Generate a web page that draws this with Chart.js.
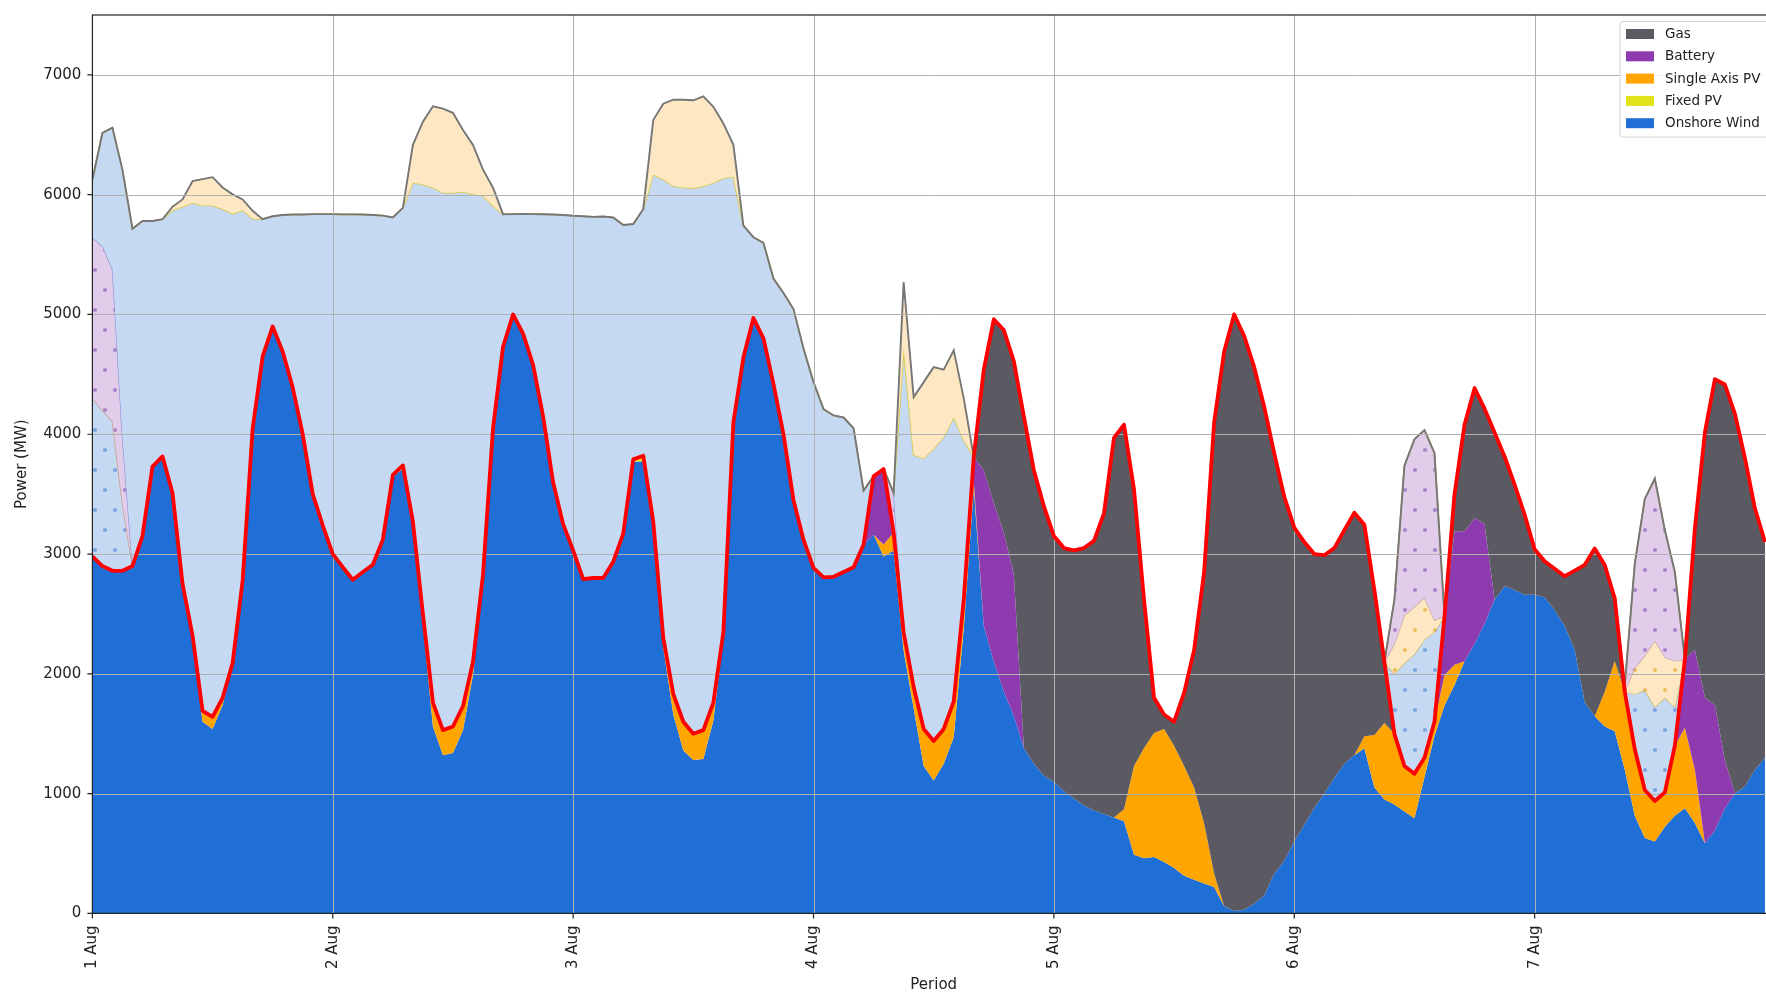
<!DOCTYPE html>
<html>
<head>
<meta charset="utf-8">
<script src="https://cdn.jsdelivr.net/npm/chart.js@4/dist/chart.umd.min.js"></script>
<style>
  html, body { margin: 0; padding: 0; background: #fff; overflow: hidden; width: 1766px; height: 993px; }
  canvas { display: block; }
</style>
</head>
<body>
<canvas id="dispatch" width="1800" height="993"></canvas>
<script>
// Hourly dispatch, 1 Aug 00:00 to 7 Aug 23:00 (MW). One row per day.
const tickLabels = ['1 Aug', '2 Aug', '3 Aug', '4 Aug', '5 Aug', '6 Aug', '7 Aug', '8 Aug'];
const powerTicks = [0, 1000, 2000, 3000, 4000, 5000, 6000, 7000];

const load = [
  2980,2900,2860,2860,2900,3150,3730,3815,3510,2750,2320,1690,1640,1800,2090,2780,4050,4650,4900,4690,4390,4000,3500,3240,
  3000,2890,2785,2850,2910,3120,3660,3740,3270,2500,1760,1530,1560,1730,2100,2830,4050,4730,5000,4840,4580,4150,3600,3250,
  3030,2790,2800,2800,2935,3170,3790,3820,3270,2300,1830,1600,1500,1530,1760,2350,4100,4640,4970,4800,4420,4000,3450,3120,
  2885,2805,2810,2850,2890,3080,3650,3710,3180,2345,1890,1540,1440,1540,1770,2620,3810,4540,4960,4870,4610,4150,3700,3400,
  3150,3050,3030,3050,3110,3340,3970,4080,3540,2620,1800,1660,1600,1840,2200,2850,4100,4690,5000,4820,4560,4230,3840,3480,
  3220,3100,3000,2990,3050,3200,3345,3245,2700,2100,1500,1230,1165,1300,1600,2480,3500,4080,4385,4214,4014,3815,3580,3330,
  3040,2940,2877,2815,2862,2910,3046,2908,2630,1850,1370,1030, 938,1010,1400,2120,3215,4015,4460,4415,4170,3800,3380,3100
];

const onshoreWind = [
  2980,2900,2860,2860,2900,3150,3730,3815,3510,2740,2280,1600,1540,1740,2070,2780,4050,4650,4900,4690,4390,4000,3500,3240,
  3000,2890,2785,2850,2910,3120,3645,3715,3230,2420,1560,1320,1340,1530,1990,2800,4050,4730,5000,4840,4580,4150,3600,3250,
  3030,2790,2800,2800,2935,3170,3770,3775,3220,2220,1660,1360,1280,1290,1610,2310,4100,4640,4970,4800,4420,4000,3450,3120,
  2885,2805,2810,2850,2890,3080,3160,2980,3030,2195,1710,1230,1110,1250,1470,2380,3550,2400,2100,1850,1650,1380,1250,1150,
  1100,1020, 960, 900, 860, 830, 800, 770, 490, 460, 470, 430, 380, 315, 280, 250, 220,  60,  20,  30,  80, 150, 330, 440,
   600, 740, 880,1000,1130,1250,1320,1379,1050, 950, 910, 850, 795,1137,1480,1735,1906,2105,2248,2419,2618,2732,2700,2660,
  2660,2640,2530,2400,2200,1760,1646,1560,1520,1200, 815, 630, 600, 723, 815, 877, 754, 585, 692, 877,1000,1060,1200,1300
];

const fixedPV = [
  0,0,0,0,0,0, 0, 0,0,0,0,0,0,0,0,0,0,0,0,0,0,0,0,0,
  0,0,0,0,0,0,15,25,0,0,0,0,0,0,0,0,0,0,0,0,0,0,0,0,
  0,0,0,0,0,0,20,25,0,0,0,0,0,0,0,0,0,0,0,0,0,0,0,0,
  0,0,0,0,0,0, 0, 0,0,0,0,0,0,0,0,0,0,0,0,0,0,0,0,0,
  0,0,0,0,0,0, 0, 0,0,0,0,0,0,0,0,0,0,0,0,0,0,0,0,0,
  0,0,0,0,0,0, 0, 0,0,0,0,0,0,0,0,0,0,0,0,0,0,0,0,0,
  0,0,0,0,0,0, 0, 0,0,0,0,0,0,0,0,0,0,0,0,0,0,0,0,0
];

const singleAxisPV = [
  0,0,0,0,0,0,0,  0,  0,  10,  40,  90, 100,  60,  20,   0,  0,0,0,0,0,0,0,0,
  0,0,0,0,0,0,0,  0, 40,  80, 200, 210, 220, 200, 110,  30,  0,0,0,0,0,0,0,0,
  0,0,0,0,0,0,0, 20, 50,  80, 170, 240, 220, 240, 150,  40,  0,0,0,0,0,0,0,0,
  0,0,0,0,0,0,0,100,150, 150, 180, 310, 330, 290, 300, 240, 60,0,0,0,0,0,0,0,
  0,0,0,0,0,0,0,100,740, 920,1035,1110,1020, 915, 770, 500,110,0,0,0,0,0,0,0,
  0,0,0,0,0,0,0,100,440, 640, 590, 380, 370, 163, 120, 255,170,0,0,0,0,0,0,0,
  0,0,0,0,0,0,0,290,587, 650, 555, 400, 338, 287, 585, 673,446,0,0,0,0,0,0,0
];

const battery = [
  0,0,0,0,0,0,  0,  0,0,0,0,0,0,0,0,  0,   0,   0,   0,   0,   0,0,0,0,
  0,0,0,0,0,0,  0,  0,0,0,0,0,0,0,0,  0,   0,   0,   0,   0,   0,0,0,0,
  0,0,0,0,0,0,  0,  0,0,0,0,0,0,0,0,  0,   0,   0,   0,   0,   0,0,0,0,
  0,0,0,0,0,0,490,630,0,0,0,0,0,0,0,  0, 200,1300,1325,1330,1180,0,0,0,
  0,0,0,0,0,0,  0,  0,0,0,0,0,0,0,0,  0,   0,   0,   0,   0,   0,0,0,0,
  0,0,0,0,0,0,  0,  0,0,0,0,0,0,0,0,490,1114,1085,1052, 831,   0,0,0,0,
  0,0,0,0,0,0,  0,  0,0,0,0,0,0,0,0,570,1000,1215,1048, 400,   0,0,0,0
];

const gas = [
     0,   0,   0,   0,   0,   0,   0,   0,   0,   0,  0,  0,  0,  0,   0,   0,   0,   0,   0,   0,   0,   0,   0,   0,
     0,   0,   0,   0,   0,   0,   0,   0,   0,   0,  0,  0,  0,  0,   0,   0,   0,   0,   0,   0,   0,   0,   0,   0,
     0,   0,   0,   0,   0,   0,   0,   0,   0,   0,  0,  0,  0,  0,   0,   0,   0,   0,   0,   0,   0,   0,   0,   0,
     0,   0,   0,   0,   0,   0,   0,   0,   0,   0,  0,  0,  0,  0,   0,   0,   0, 840,1535,1690,1780,2770,2450,2250,
  2050,2030,2070,2150,2250,2510,3170,3210,2310,1240,295,120,200,610,1150,2100,3770,4630,4980,4790,4480,4080,3510,3040,
  2620,2360,2120,1990,1920,1950,2025,1766,1210, 510,  0,  0,  0,  0,   0,   0, 310, 890,1085, 964,1396,1083, 880, 670,
   380, 300, 347, 415, 662,1150,1400,1058, 523,   0,  0,  0,  0,  0,   0,   0,1015,2215,2720,3138,3170,2740,2180,1800
];

// Energy above demand: stored (dotted) and curtailed (plain)
const windToStorage = [
  1320,1300,1250,560,0,0,0,0,0,0,   0,   0,   0,   0,   0,0,0,0,0,0,0,0,0,0,
  0,0,0,0,0,0,0,0,0,0,   0,   0,   0,   0,   0,0,0,0,0,0,0,0,0,0,
  0,0,0,0,0,0,0,0,0,0,   0,   0,   0,   0,   0,0,0,0,0,0,0,0,0,0,
  0,0,0,0,0,0,0,0,0,0,   0,   0,   0,   0,   0,0,0,0,0,0,0,0,0,0,
  0,0,0,0,0,0,0,0,0,0,   0,   0,   0,   0,   0,0,0,0,0,0,0,0,0,0,
  0,0,0,0,0,0,0,0,0,0, 500, 858,1000, 987, 748,0,0,0,0,0,0,0,0,0,
  0,0,0,0,0,0,0,0,0,0, 460, 832, 785, 790, 323,0,0,0,0,0,0,0,0,0
];

const pvToStorage = [
  0,0,0,0,0,0,0,0,0,0,  0,  0,  0,  0,  0,0,0,0,0,0,0,0,0,0,
  0,0,0,0,0,0,0,0,0,0,  0,  0,  0,  0,  0,0,0,0,0,0,0,0,0,0,
  0,0,0,0,0,0,0,0,0,0,  0,  0,  0,  0,  0,0,0,0,0,0,0,0,0,0,
  0,0,0,0,0,0,0,0,0,0,  0,  0,  0,  0,  0,0,0,0,0,0,0,0,0,0,
  0,0,0,0,0,0,0,0,0,0,  0,  0,  0,  0,  0,0,0,0,0,0,0,0,0,0,
  0,0,0,0,0,0,0,0,0,0,250,400,395,350,100,0,0,0,0,0,0,0,0,0,
  0,0,0,0,0,0,0,0,0,0,220,288,554,338,385,0,0,0,0,0,0,0,0,0
];

const batteryCharge = [
  1340,1370,1270,550,0,0,0,0,  0, 0,   0,   0,   0,   0,   0,0,0,0,0,0,0,0,0,0,
  0,0,0,0,0,0,0,0,  0, 0,   0,   0,   0,   0,   0,0,0,0,0,0,0,0,0,0,
  0,0,0,0,0,0,0,0,  0, 0,   0,   0,   0,   0,   0,0,0,0,0,0,0,0,0,0,
  0,0,0,0,0,0,0,0,330, 0,   0,   0,   0,   0,   0,0,0,0,0,0,0,0,0,0,
  0,0,0,0,0,0,0,0,  0, 0,   0,   0,   0,   0,   0,0,0,0,0,0,0,0,0,0,
  0,0,0,0,0,0,0,0,  0, 0, 370,1250,1397,1398,1396,0,0,0,0,0,0,0,0,0,
  0,0,0,0,0,0,0,0,  0,50, 870,1310,1353,1062, 742,0,0,0,0,0,0,0,0,0
];

const windCurtailed = [
   485, 945,1180,2237,2816,2630,2050,1980,2360,3150,3610,4220,4270,4080,3750,3090,1750,1146, 920,1140,1445,1835,2338,2598,
  2838,2946,3051,2984,2920,2705,2150,2150,2830,3585,4298,4487,4457,4295,3903,3159,1856,1107, 838,1000,1258,1687,2235,2580,
  2794,3030,3015,3018,2875,2577,1965,2059,2898,3827,4242,4460,4555,4540,4340,3790,2050,1101, 675, 798, 880,1180,1595,1595,
  1550,1405,1347,1290,1160, 450,   0,   0,   0,2370,1936,2260,2440,2440,2370,1330,   0,   0,   0,   0,   0,   0,   0,   0,
  0,0,0,0,0,0,0,0,0,0,0,0,0,0,0,0,0,0,0,0,0,0,0,0,
  0,0,0,0,0,0,0,0,0,0,0,0,0,0,0,0,0,0,0,0,0,0,0,0,
  0,0,0,0,0,0,0,0,0,0,0,0,0,0,0,0,0,0,0,0,0,0,0,0
];

const pvCurtailed = [
  0,0,0,0,0,0,0,0, 30, 60,183,220,236,180,163, 90, 65,0,0,0,0,0,0,0,
  0,0,0,0,0,0,0,0,316,524,680,702,666,515,413,220,152,0,0,0,0,0,0,0,
  0,0,0,0,0,0,0,0,455,633,721,733,733,751,633,455,266,0,0,0,0,0,0,0,
  0,0,0,0,0,0,0,0,  0,555,484,635,680,560,560,350,  0,0,0,0,0,0,0,0,
  0,0,0,0,0,0,0,0,0,0,0,0,0,0,0,0,0,0,0,0,0,0,0,0,
  0,0,0,0,0,0,0,0,0,0,0,0,0,0,0,0,0,0,0,0,0,0,0,0,
  0,0,0,0,0,0,0,0,0,0,0,0,0,0,0,0,0,0,0,0,0,0,0,0
];

// Colours
const C_WIND = '#1f6fd6', C_FIXED = '#e3e31b', C_SINGLE = '#ffa500', C_BATT = '#8e3bb0', C_GAS = '#5b5a62';
const PALE_BLUE = '#c5d9f2', PALE_SUN = '#fde8c3', PALE_PURPLE = '#e1cdea';
const GRID = '#b0b0b0', INK = '#222222', FONT = "'DejaVu Sans', sans-serif";

const canvas = document.getElementById('dispatch');
const ctx2d = canvas.getContext('2d');

function dotted(bg, dot) {
  const tile = document.createElement('canvas');
  tile.width = 20; tile.height = 40;
  const g = tile.getContext('2d');
  g.fillStyle = bg; g.fillRect(0, 0, 20, 40);
  g.fillStyle = dot;
  [[5, 10], [15, 30]].forEach(([px, py]) => { g.beginPath(); g.arc(px, py, 2.1, 0, Math.PI * 2); g.fill(); });
  return ctx2d.createPattern(tile, 'repeat');
}

// Stack order from the ground up
const layers = [
  { label: 'Onshore Wind',   values: onshoreWind,   fill: C_WIND,   line: null, legend: true },
  { label: 'Fixed PV',       values: fixedPV,       fill: C_FIXED,  line: null, legend: true },
  { label: 'Single Axis PV', values: singleAxisPV,  fill: C_SINGLE, line: null, legend: true },
  { label: 'Battery',        values: battery,       fill: C_BATT,   line: null, legend: true },
  { label: 'Gas',            values: gas,           fill: C_GAS,    line: null, legend: true },
  { label: 'Wind to storage', values: windToStorage, fill: dotted(PALE_BLUE, '#7fa3e2'),   line: '#c9b45c', width: 1.2 },
  { label: 'PV to storage',   values: pvToStorage,   fill: dotted(PALE_SUN, '#eebd5c'),    line: '#c99c9c', width: 1.2 },
  { label: 'Battery charge',  values: batteryCharge, fill: dotted(PALE_PURPLE, '#a983c9'), line: '#8d8dd4', width: 1.2 },
  { label: 'Wind curtailed',  values: windCurtailed, fill: PALE_BLUE, line: '#d6c946', width: 1.6 },
  { label: 'PV curtailed',    values: pvCurtailed,   fill: PALE_SUN,  line: '#767676', width: 1.9 }
];

const datasets = [];
let base = load.map(() => 0);
layers.forEach((layer, i) => {
  const top = base.map((b, h) => b + layer.values[h]);
  datasets.push({
    label: layer.label,
    data: top.map((v, h) => ({ x: h, y: v })),
    fill: i === 0 ? 'origin' : i - 1,
    backgroundColor: layer.fill,
    borderColor: layer.line || 'rgba(0,0,0,0)',
    borderWidth: layer.line ? layer.width : 0,
    pointRadius: 0,
    tension: 0,
    order: 20 - i,
    legendColor: layer.legend ? layer.fill : null
  });
  base = top;
});
datasets.push({
  label: 'Load',
  data: load.map((v, h) => ({ x: h, y: v })),
  fill: false,
  borderColor: '#ff0000',
  borderWidth: 3.8,
  borderJoinStyle: 'round',
  pointRadius: 0,
  tension: 0,
  order: 0
});
const LOAD_INDEX = datasets.length - 1;

const frameAndLegend = {
  id: 'frameAndLegend',
  beforeDatasetDraw(chart, args) {
    if (args.index !== LOAD_INDEX) return;
    const { ctx, chartArea: a, scales: { x, y } } = chart;
    ctx.save();
    ctx.beginPath(); ctx.rect(a.left, a.top, a.right - a.left, a.bottom - a.top); ctx.clip();
    ctx.strokeStyle = GRID; ctx.lineWidth = 1;
    ctx.beginPath();
    y.ticks.forEach(t => { const p = Math.round(y.getPixelForValue(t.value)) + 0.5; ctx.moveTo(a.left, p); ctx.lineTo(a.right, p); });
    x.ticks.forEach(t => { const p = Math.round(x.getPixelForValue(t.value)) + 0.5; ctx.moveTo(p, a.top); ctx.lineTo(p, a.bottom); });
    ctx.stroke();
    ctx.restore();
  },
  afterDraw(chart) {
    const { ctx, chartArea: a, scales: { x, y } } = chart;
    ctx.save();
    ctx.strokeStyle = INK; ctx.lineWidth = 1.2;
    ctx.strokeRect(a.left, a.top, a.right - a.left, a.bottom - a.top);
    ctx.beginPath();
    y.ticks.forEach(t => { const p = y.getPixelForValue(t.value); ctx.moveTo(a.left - 5, p); ctx.lineTo(a.left, p); });
    x.ticks.forEach(t => { const p = x.getPixelForValue(t.value); ctx.moveTo(p, a.bottom); ctx.lineTo(p, a.bottom + 5); });
    ctx.stroke();

    // legend, top right inside the axes
    const items = chart.data.datasets.filter(d => d.legendColor).reverse();
    const bx = a.right - 155, by = a.top + 6.5, bw = 170, rowH = 22.3;
    const bh = items.length * rowH + 4;
    ctx.fillStyle = 'rgba(255,255,255,0.85)';
    ctx.strokeStyle = '#d4d4d4'; ctx.lineWidth = 1;
    ctx.beginPath();
    ctx.roundRect(bx, by, bw, bh, 3);
    ctx.fill(); ctx.stroke();
    ctx.font = `13.5px ${FONT}`;
    ctx.textBaseline = 'middle';
    items.forEach((d, i) => {
      const cy = by + 12.5 + i * rowH;
      ctx.fillStyle = d.legendColor;
      ctx.fillRect(bx + 6, cy - 5, 28, 10);
      ctx.fillStyle = INK;
      ctx.fillText(d.label, bx + 45, cy + 0.5);
    });
    ctx.restore();
  }
};

new Chart(canvas, {
  type: 'line',
  data: { datasets },
  plugins: [frameAndLegend],
  options: {
    responsive: false,
    animation: false,
    events: [],
    layout: { padding: { top: 8, right: 22.7, left: 0, bottom: 0 } },
    plugins: { legend: { display: false }, tooltip: { enabled: false } },
    elements: { point: { radius: 0 }, line: { tension: 0 } },
    scales: {
      x: {
        type: 'linear',
        min: 0,
        max: 168,
        afterFit: s => { s.height = 79.6; },
        afterBuildTicks: s => { s.ticks = tickLabels.map((_, i) => ({ value: i * 24 })); },
        grid: { display: false, drawTicks: true, tickLength: 5 },
        border: { display: false },
        ticks: {
          autoSkip: false, minRotation: 90, maxRotation: 90, padding: 7,
          color: INK, font: { family: FONT, size: 15 },
          callback: (v, i) => tickLabels[i]
        },
        title: { display: true, text: 'Period', color: INK, font: { family: FONT, size: 15, lineHeight: 1 }, padding: { top: 0, bottom: 0.5 } }
      },
      y: {
        min: 0,
        max: 7500,
        afterFit: s => { s.width = 92.4; },
        afterBuildTicks: s => { s.ticks = powerTicks.map(v => ({ value: v })); },
        grid: { display: false, drawTicks: true, tickLength: 5 },
        border: { display: false },
        ticks: {
          autoSkip: false, padding: 6, color: INK, font: { family: FONT, size: 15 },
          callback: (v, i) => String(powerTicks[i])
        },
        title: { display: true, text: 'Power (MW)', color: INK, font: { family: FONT, size: 15, lineHeight: 1.2 }, padding: { top: 13.5, bottom: 0 } }
      }
    }
  }
});
</script>
</body>
</html>
